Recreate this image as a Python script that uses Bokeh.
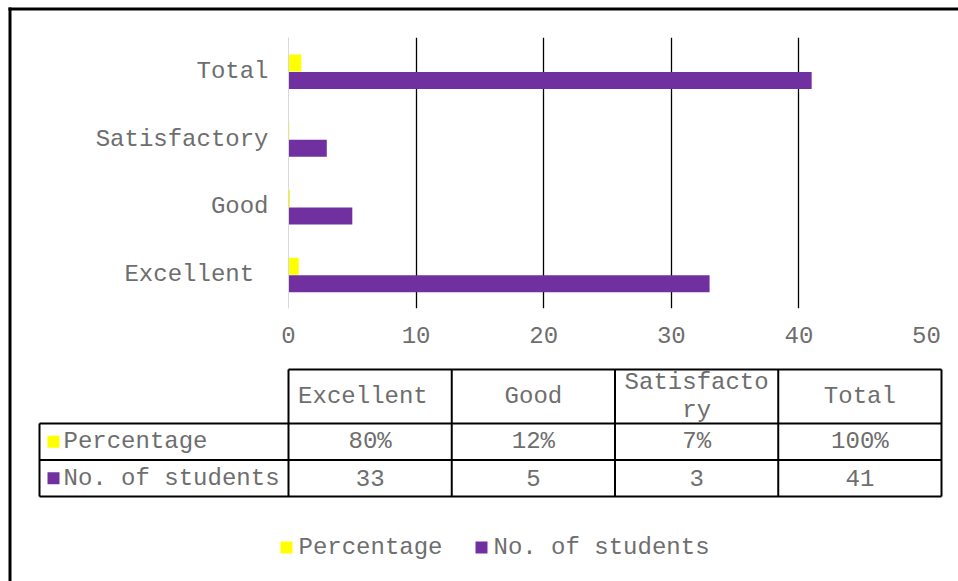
from bokeh.plotting import figure
from bokeh.models import Range1d, FixedTicker, ColumnDataSource
from bokeh.core.properties import value
from bokeh.embed import file_html
from bokeh.resources import INLINE

# ---------------- data ----------------
categories = ["Excellent ", "Good", "Satisfactory", "Total"]
percentage = [0.80, 0.12, 0.07, 1.00]
students = [33, 5, 3, 41]
series_names = ["Percentage", "No. of students"]
series_colors = ["#FFFF00", "#7030A0"]
x_ticks = [0, 10, 20, 30, 40, 50]

# ---------------- style / layout ----------------
FONT = "Liberation Mono"
FS = "24px"
TXT = "#6e6e6e"
W, H = 958, 581
FL, FR, FT, FB = 288, 926, 37, 308      # frame edges in canvas pixels
CHAR_W = 14.4
ncat = len(categories)

p = figure(width=W, height=H,
           y_range=Range1d(0, ncat),
           x_range=Range1d(x_ticks[0], x_ticks[-1]),
           output_backend="svg", toolbar_location=None,
           min_border_left=FL, min_border_right=W - FR,
           min_border_top=FT, min_border_bottom=H - FB)
# pixel coordinate system (canvas pixels) for the table, legend and chart border
p.extra_x_ranges = {"px": Range1d(FL, FR)}
p.extra_y_ranges = {"py": Range1d(FB, FT)}

# ---------------- bars ----------------
cat_pos = [i + 0.5 for i in range(ncat)]
src = ColumnDataSource(dict(
    y_pct=[c + 0.125 for c in cat_pos],
    y_n=[c - 0.135 for c in cat_pos],
    pct=percentage, n=students))
p.hbar(y="y_pct", left=0, right="pct", height=0.25,
       source=src, fill_color=series_colors[0], line_color=None)
p.hbar(y="y_n", left=0, right="n", height=0.25,
       source=src, fill_color=series_colors[1], line_color=None)

for ax in (p.xaxis[0], p.yaxis[0]):
    ax.major_tick_line_color = None
    ax.minor_tick_line_color = None
    ax.major_tick_out = 0
    ax.major_tick_in = 0
    ax.major_label_text_font = FONT
    ax.major_label_text_font_size = FS
    ax.major_label_text_color = TXT

p.xaxis.ticker = FixedTicker(ticks=x_ticks)
p.xaxis.axis_line_color = None
p.xaxis.major_label_standoff = 18
p.yaxis.ticker = FixedTicker(ticks=cat_pos)
p.yaxis.major_label_overrides = {c: name for c, name in zip(cat_pos, categories)}
p.yaxis.axis_line_color = "#d9d9d9"
p.yaxis.axis_line_width = 1
p.yaxis.major_label_standoff = 20

p.xgrid.ticker = FixedTicker(ticks=x_ticks[1:])
p.xgrid.grid_line_color = "black"
p.xgrid.grid_line_width = 1.3
p.ygrid.grid_line_color = None
p.outline_line_color = None

PX = dict(x_range_name="px", y_range_name="py")
renderers = []

# ---------------- chart border (top + left) ----------------
renderers.append(p.quad(left=[8, 8], right=[11, W], top=[7, 7], bottom=[H, 10],
                        fill_color="black", line_color=None, **PX))

# ---------------- data table ----------------
TBL_LEFT = 39
COL0 = FL
COL_W = 163.25
HEAD_TOP = 369
HEAD_BOT = 423
ROW_H = 36.5
col_edges = [COL0 + i * COL_W for i in range(ncat + 1)]
col_mid = [COL0 + (i + 0.5) * COL_W for i in range(ncat)]
row_bottoms = [HEAD_BOT + (r + 1) * ROW_H for r in range(len(series_names))]
row_mid = [HEAD_BOT + (r + 0.5) * ROW_H for r in range(len(series_names))]
tbl_bot = row_bottoms[-1]

x0s, y0s, x1s, y1s = [], [], [], []
x0s.append(COL0); x1s.append(col_edges[-1]); y0s.append(HEAD_TOP); y1s.append(HEAD_TOP)
for yy in [HEAD_BOT] + row_bottoms:
    x0s.append(TBL_LEFT); x1s.append(col_edges[-1]); y0s.append(yy); y1s.append(yy)
x0s.append(TBL_LEFT); x1s.append(TBL_LEFT); y0s.append(HEAD_BOT); y1s.append(tbl_bot)
for xx in col_edges:
    x0s.append(xx); x1s.append(xx); y0s.append(HEAD_TOP); y1s.append(tbl_bot)
renderers.append(p.segment(x0s, y0s, x1s, y1s, line_color="black", line_width=2, **PX))


def wrap(s, n=10):
    return "\n".join(s[i:i + n] for i in range(0, len(s), n))


txt_kw = dict(text_font=value(FONT), text_font_size=value(FS), text_color=TXT,
              text_baseline="middle", text_line_height=1.05, **PX)

renderers.append(p.text(x=col_mid, y=[(HEAD_TOP + HEAD_BOT) / 2] * ncat,
                        text=[wrap(c) for c in categories], text_align="center", **txt_kw))
pct_labels = [f"{round(v * 100)}%" for v in percentage]
row_values = [pct_labels, [str(v) for v in students]]
for i in range(len(series_names)):
    renderers.append(p.text(x=col_mid, y=[row_mid[i]] * ncat, text=row_values[i],
                            text_align="center", **txt_kw))
    renderers.append(p.rect(x=[53], y=[row_mid[i]], width=12, height=12,
                            fill_color=series_colors[i], line_color=None, **PX))
    renderers.append(p.text(x=[63], y=[row_mid[i]], text=[series_names[i]],
                            text_align="left", **txt_kw))

# ---------------- legend ----------------
leg_x = 280
LEG_Y = 547
for name, colr in zip(series_names, series_colors):
    renderers.append(p.rect(x=[leg_x + 6], y=[LEG_Y], width=12, height=12,
                            fill_color=colr, line_color=None, **PX))
    renderers.append(p.text(x=[leg_x + 18], y=[LEG_Y], text=[name],
                            text_align="left", **txt_kw))
    leg_x += 18 + len(name) * CHAR_W + 33

for rr in renderers:
    rr.level = "overlay"

open("out.html", "w").write(file_html(p, INLINE))
